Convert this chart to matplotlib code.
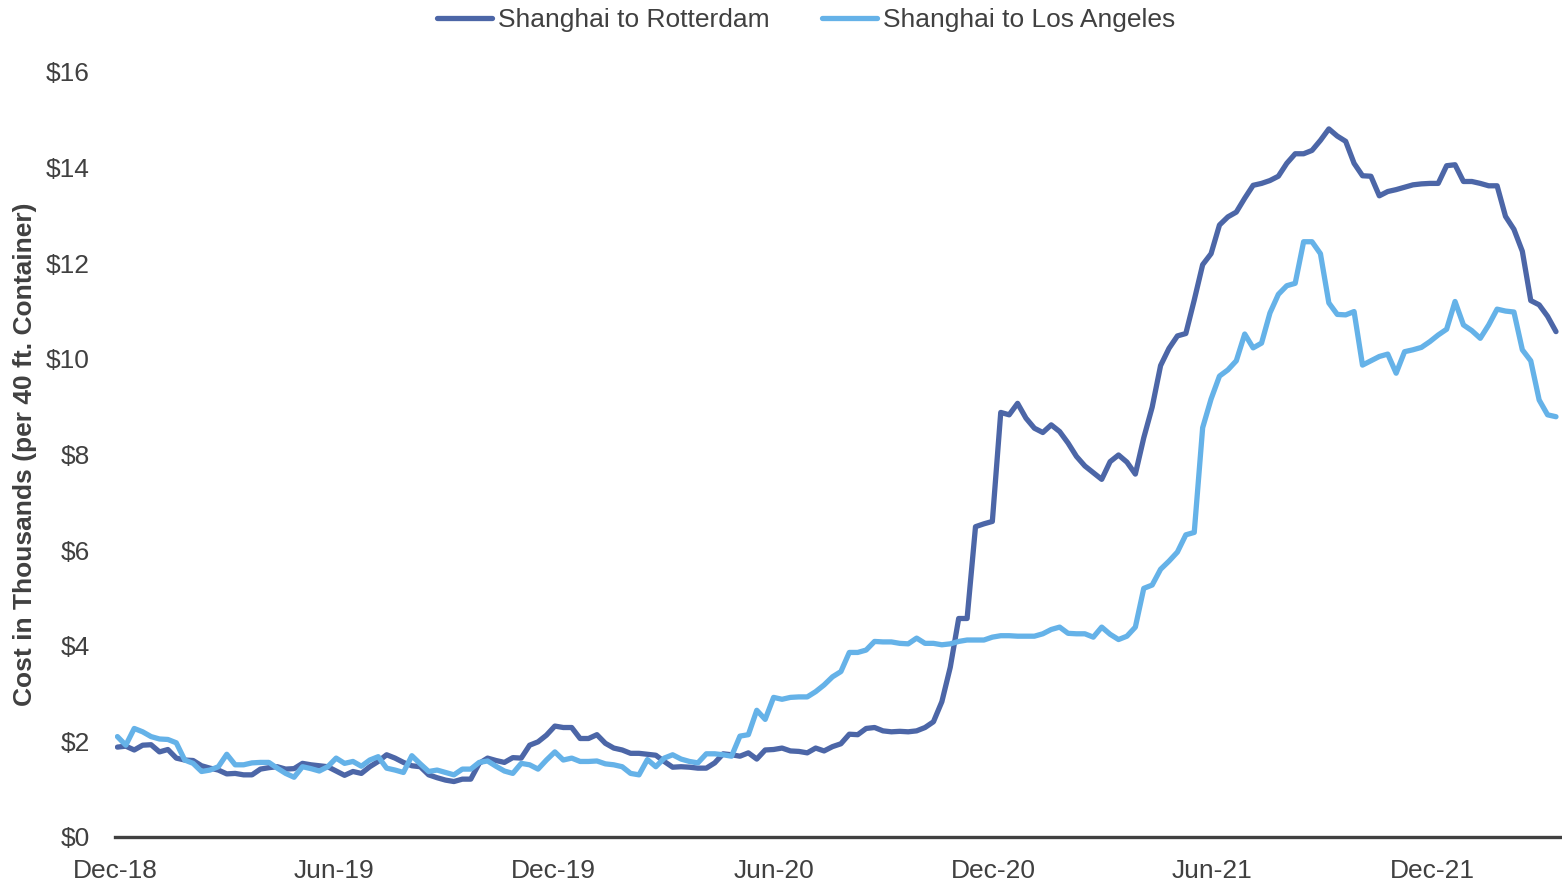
import pandas as pd
import matplotlib
matplotlib.use("Agg")
import matplotlib.pyplot as plt
import matplotlib.dates as mdates

plt.rcParams['font.family'] = ['Liberation Sans', 'DejaVu Sans']

# Weekly container rates, thousands of USD per 40 ft container
ROTTERDAM = [
    1.88, 1.90, 1.82, 1.92, 1.93, 1.78, 1.83, 1.65, 1.61, 1.60, 1.49, 1.44, 1.40, 1.32, 1.33,
    1.30, 1.30, 1.42, 1.45, 1.47, 1.42, 1.43, 1.54, 1.51, 1.49, 1.47, 1.38, 1.29, 1.37,
    1.33, 1.47, 1.58, 1.72, 1.65, 1.56, 1.49, 1.47, 1.30, 1.24, 1.19, 1.16, 1.21, 1.21, 1.54,
    1.65, 1.60, 1.56, 1.66, 1.65, 1.92, 1.99, 2.13, 2.32, 2.29, 2.29, 2.06, 2.06, 2.14, 1.96,
    1.86, 1.82, 1.75, 1.75, 1.73, 1.71, 1.58, 1.46, 1.47, 1.46, 1.44, 1.44, 1.55, 1.74, 1.72,
    1.69, 1.76, 1.63, 1.82, 1.83, 1.86, 1.80, 1.79, 1.76, 1.86, 1.80, 1.89, 1.95, 2.15, 2.14,
    2.27, 2.29, 2.22, 2.20, 2.21, 2.20, 2.22, 2.29, 2.41, 2.83, 3.55, 4.57, 4.57, 6.49, 6.55,
    6.60, 8.88, 8.83, 9.07, 8.76, 8.55, 8.46, 8.62, 8.48, 8.24, 7.96, 7.76, 7.62, 7.48, 7.85,
    7.99, 7.84, 7.59, 8.35, 8.99, 9.86, 10.22, 10.48, 10.53, 11.23, 11.97, 12.20, 12.80, 12.97,
    13.07, 13.36, 13.63, 13.67, 13.73, 13.82, 14.09, 14.29, 14.29, 14.36, 14.57, 14.81, 14.66,
    14.55, 14.09, 13.83, 13.82, 13.41, 13.50, 13.54, 13.59, 13.64, 13.66, 13.67, 13.67, 14.04,
    14.06, 13.71, 13.71, 13.67, 13.62, 13.62, 12.98, 12.71, 12.25, 11.22, 11.13, 10.89, 10.57,
]
LOS_ANGELES = [
    2.10, 1.92, 2.27, 2.20, 2.10, 2.05, 2.04, 1.97, 1.61, 1.54, 1.37, 1.40, 1.47, 1.73, 1.51,
    1.51, 1.55, 1.56, 1.56, 1.44, 1.33, 1.25, 1.47, 1.43, 1.38, 1.47, 1.65, 1.54, 1.58,
    1.48, 1.61, 1.68, 1.44, 1.40, 1.35, 1.70, 1.53, 1.37, 1.40, 1.35, 1.30, 1.42, 1.42, 1.56,
    1.59, 1.48, 1.38, 1.33, 1.54, 1.51, 1.42, 1.61, 1.78, 1.61, 1.65, 1.58, 1.58, 1.59, 1.53,
    1.51, 1.47, 1.33, 1.30, 1.62, 1.47, 1.65, 1.72, 1.63, 1.58, 1.55, 1.74, 1.74, 1.72, 1.69,
    2.11, 2.14, 2.65, 2.46, 2.92, 2.88, 2.92, 2.93, 2.93, 3.04, 3.18, 3.35, 3.46, 3.86, 3.86,
    3.91, 4.09, 4.08, 4.08, 4.05, 4.04, 4.16, 4.05, 4.05, 4.02, 4.04, 4.09, 4.12, 4.12, 4.12,
    4.18, 4.21, 4.21, 4.20, 4.20, 4.20, 4.25, 4.34, 4.39, 4.26, 4.25, 4.25, 4.18, 4.39, 4.24,
    4.13, 4.20, 4.39, 5.20, 5.27, 5.60, 5.77, 5.96, 6.32, 6.37, 8.56, 9.16, 9.64, 9.77, 9.96,
    10.52, 10.23, 10.33, 10.96, 11.35, 11.53, 11.58, 12.45, 12.45, 12.20, 11.17, 10.93,
    10.92, 10.99, 9.87, 9.96, 10.05, 10.10, 9.70, 10.15, 10.19, 10.24, 10.36, 10.50, 10.62,
    11.20, 10.71, 10.59, 10.43, 10.71, 11.04, 11.00, 10.98, 10.19, 9.96, 9.14, 8.83, 8.79,
]
DATES = pd.date_range('2018-12-03', periods=len(ROTTERDAM), freq='7D')
Y_TICKS = [0, 2, 4, 6, 8, 10, 12, 14, 16]

DARK = '#4C66A7'
LIGHT = '#65B2E8'
TEXT = '#404040'
FS = 19

fig = plt.figure(figsize=(15.62, 8.83), dpi=100)
ax = fig.add_axes([115 / 1562, 1 - 837 / 883, 1447 / 1562, 765 / 883])

ax.plot(DATES, ROTTERDAM, color=DARK, lw=3.8, label='Shanghai to Rotterdam',
        solid_joinstyle='round', solid_capstyle='round')
ax.plot(DATES, LOS_ANGELES, color=LIGHT, lw=3.8, label='Shanghai to Los Angeles',
        solid_joinstyle='round', solid_capstyle='round')

ax.set_ylim(0, 16)
ax.set_yticks(Y_TICKS)
ax.set_yticklabels([f'${v}' for v in Y_TICKS])
ax.set_xlim(pd.Timestamp('2018-12-01'), pd.Timestamp('2022-03-19'))
ax.xaxis.set_major_locator(mdates.MonthLocator(bymonth=[6, 12]))
ax.xaxis.set_major_formatter(mdates.DateFormatter('%b-%y'))

for side in ['top', 'right', 'left']:
    ax.spines[side].set_visible(False)
ax.spines['bottom'].set_color(TEXT)
ax.spines['bottom'].set_linewidth(2.4)
ax.tick_params(axis='y', length=0, pad=18, labelsize=FS, labelcolor=TEXT)
ax.tick_params(axis='x', length=0, pad=16, labelsize=FS, labelcolor=TEXT)

fig.text(25 / 1562, 1 - 454 / 883, 'Cost in Thousands (per 40 ft. Container)',
         rotation=90, ha='center', va='center', fontsize=FS, fontweight='bold', color=TEXT)

fig.legend(loc='center', bbox_to_anchor=(806 / 1562, 1 - 20 / 883), ncol=2, frameon=False,
           fontsize=FS, handlelength=2.1, handletextpad=0.2, columnspacing=2.0,
           labelcolor=TEXT)

fig.savefig('out.png', dpi=100)
